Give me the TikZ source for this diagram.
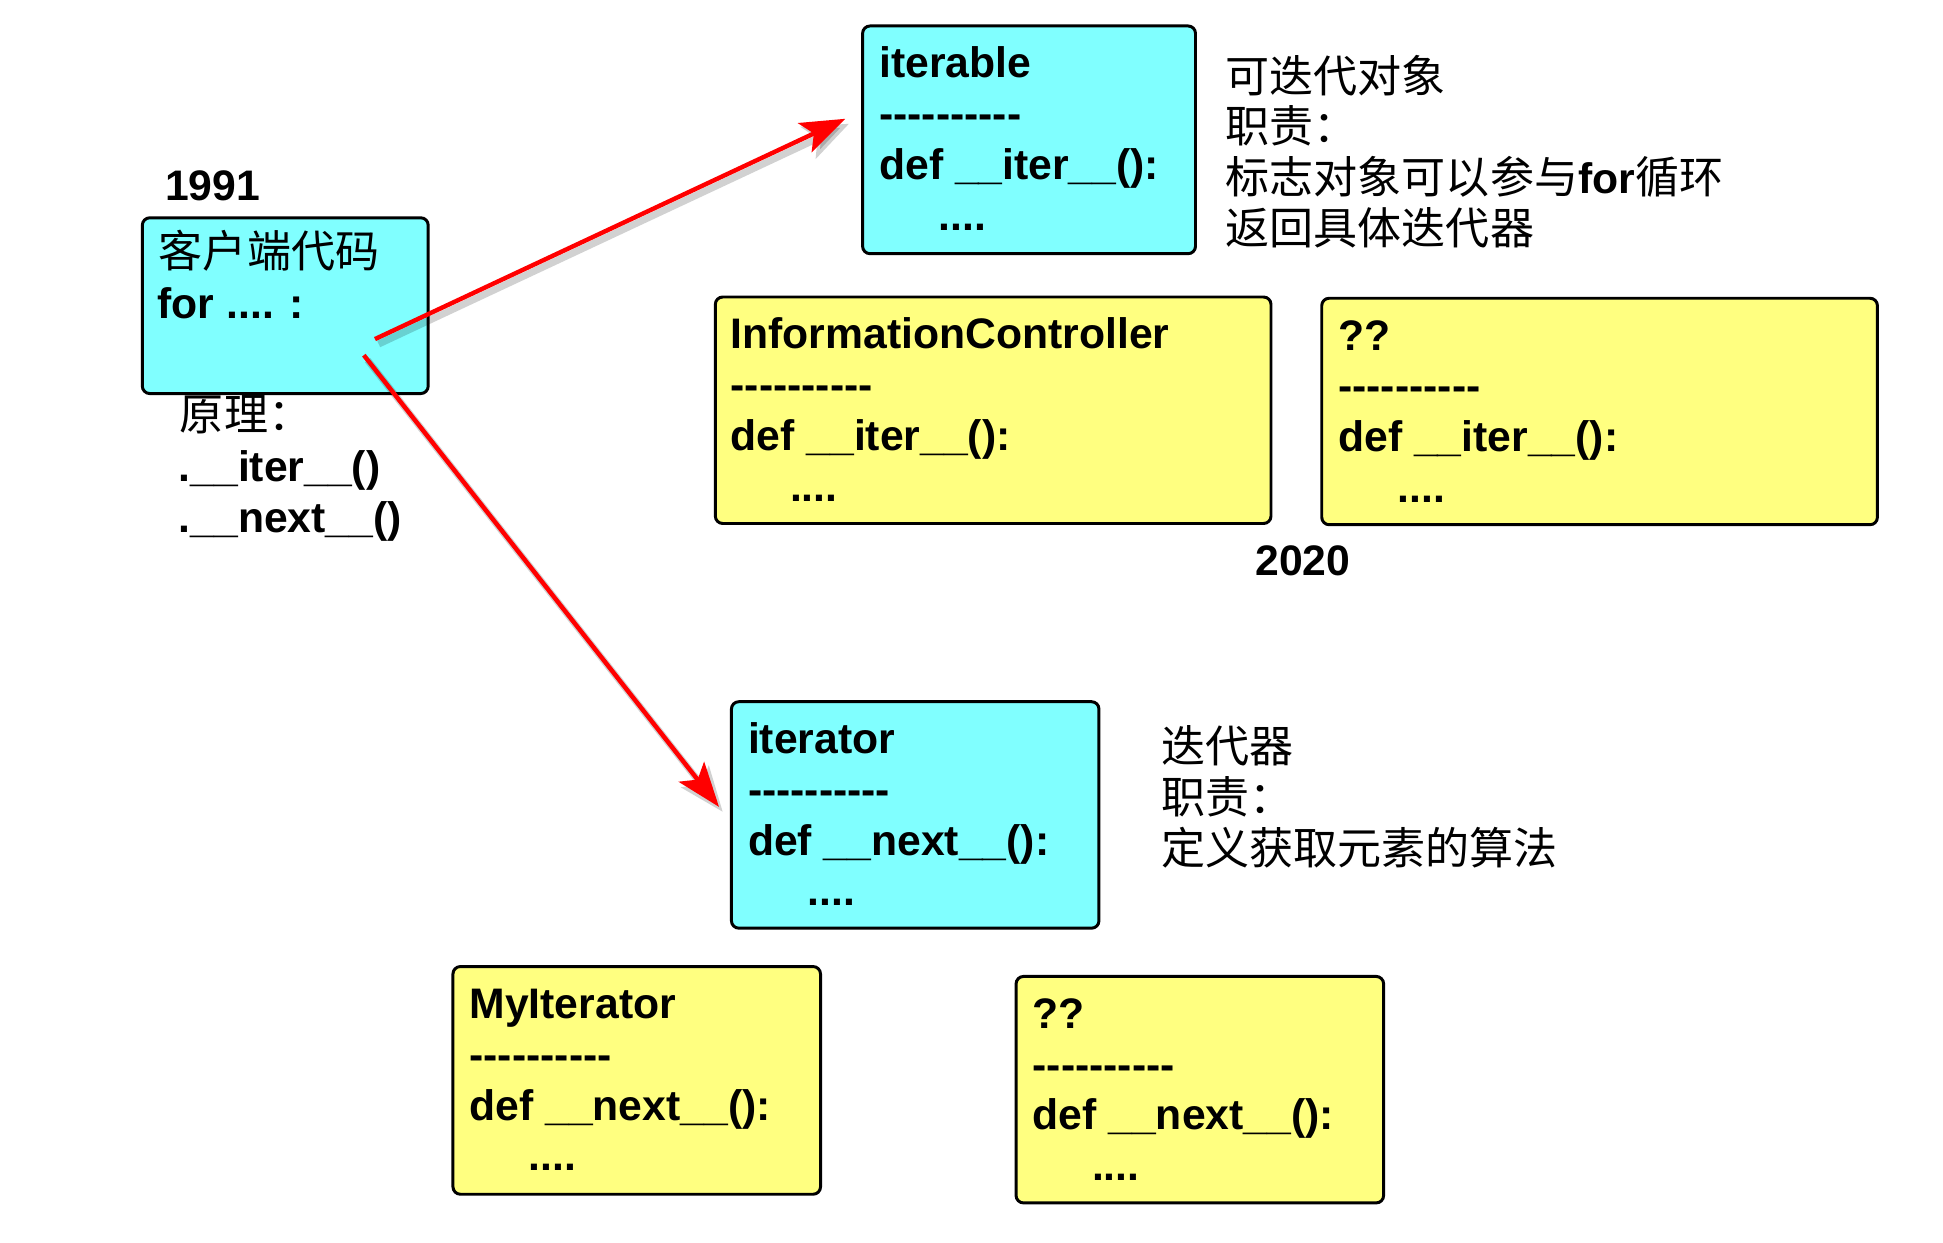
\documentclass[tikz,border=0pt]{standalone}
\usepackage{fontspec}
\setmainfont{Liberation Sans}
\newfontfamily\cjk{Noto Sans CJK SC}
\newfontfamily\lat{Liberation Sans}
\usetikzlibrary{arrows.meta}
\definecolor{cyanbox}{RGB}{128,255,255}
\definecolor{yellowbox}{RGB}{255,255,128}
\newcommand\dashrow{\mbox{-}\mbox{-}\mbox{-}\mbox{-}\mbox{-}\mbox{-}\mbox{-}\mbox{-}\mbox{-}\mbox{-}}
\newcommand\dotsrow{\hspace*{24pt}....}
\newcommand\mylines[5]{\foreach \t [count=\i from 0] in {#5}{\node[#2] (#1-\i) at (#3,#4+41*\i) {\t};}}
\begin{document}
\begin{tikzpicture}[x=0.5pt,y=-0.5pt,
  cbox/.style={draw=black, line width=1.2pt, rounded corners=3pt, fill=cyanbox, inner sep=0pt, outer sep=0pt},
  ybox/.style={draw=black, line width=1.2pt, rounded corners=3pt, fill=yellowbox, inner sep=0pt, outer sep=0pt},
  codeline/.style={inner sep=0pt, anchor=base west, font=\bfseries\fontsize{17.25}{20}\selectfont},
  zhline/.style={inner sep=0pt, anchor=base west, font=\cjk\fontsize{17.8}{20}\selectfont},
  arr/.style={draw=red, line width=1.8pt, -{Stealth[length=18pt,width=13pt,inset=4pt]}},
  arrshadow/.style={draw=black, opacity=0.18, line width=2.8pt, -{Stealth[length=18pt,width=14pt,inset=4pt]}}]
\useasboundingbox (0,0) rectangle (1570,1004);
% boxes
\node[cbox, minimum width=115.5pt, minimum height=71pt] (client) at (230.5,247) {};
\node[cbox, minimum width=134.5pt, minimum height=92pt] (iterable) at (831.5,113) {};
\node[ybox, minimum width=224.5pt, minimum height=91.5pt] (infoctrl) at (802.5,331.5) {};
\node[ybox, minimum width=224.5pt, minimum height=91.5pt] (qa) at (1292.5,332.5) {};
\node[cbox, minimum width=148.5pt, minimum height=91.5pt] (iterator) at (739.5,658.5) {};
\node[ybox, minimum width=148.5pt, minimum height=92pt] (myiter) at (514.5,873) {};
\node[ybox, minimum width=148.5pt, minimum height=91.5pt] (qb) at (969.5,880.5) {};
% labels
\node[codeline] (y1991) at (133,162) {1991};
\node[codeline] (y2020) at (1014,465) {2020};
\node[zhline] (clientA) at (128,216) {客户端代码};
\node[codeline] (clientB) at (127,257) {for .... :};
\node[zhline] (prin) at (145,348) {原理：};
\node[codeline] (prinA) at (144,389) {.\_\_iter\_\_()};
\node[codeline] (prinB) at (144,430) {.\_\_next\_\_()};
% box texts
\mylines{iterableT}{codeline}{710}{63}{iterable,\dashrow,def \_\_iter\_\_():,\dotsrow}
\mylines{infoT}{codeline}{590}{282}{InformationController,\dashrow,def \_\_iter\_\_():,\dotsrow}
\mylines{qaT}{codeline}{1081}{283}{??,\dashrow,def \_\_iter\_\_():,\dotsrow}
\mylines{iteratorT}{codeline}{604}{609}{iterator,\dashrow,def \_\_next\_\_():,\dotsrow}
\mylines{myiterT}{codeline}{379}{823}{MyIterator,\dashrow,def \_\_next\_\_():,\dotsrow}
\mylines{qbT}{codeline}{834}{831}{??,\dashrow,def \_\_next\_\_():,\dotsrow}
% side notes
\mylines{noteA}{zhline}{990}{74.5}{可迭代对象,职责：,标志对象可以参与{\lat\bfseries\fontsize{17.25}{20}\selectfont for}循环,返回具体迭代器}
\mylines{noteB}{zhline}{938}{616.5}{迭代器,职责：,定义获取元素的算法}
% arrows
\coordinate (a1s) at (303,274);
\coordinate (a1e) at (683,96);
\coordinate (a2s) at (294,287);
\coordinate (a2e) at (581,652);
\draw[arrshadow] ([shift={(3,4)}]a1s) -- ([shift={(3,4)}]a1e);
\draw[arrshadow] ([shift={(3,4)}]a2s) -- ([shift={(3,4)}]a2e);
\draw[arr] (a1s) -- (a1e);
\draw[arr] (a2s) -- (a2e);
\end{tikzpicture}
\end{document}
